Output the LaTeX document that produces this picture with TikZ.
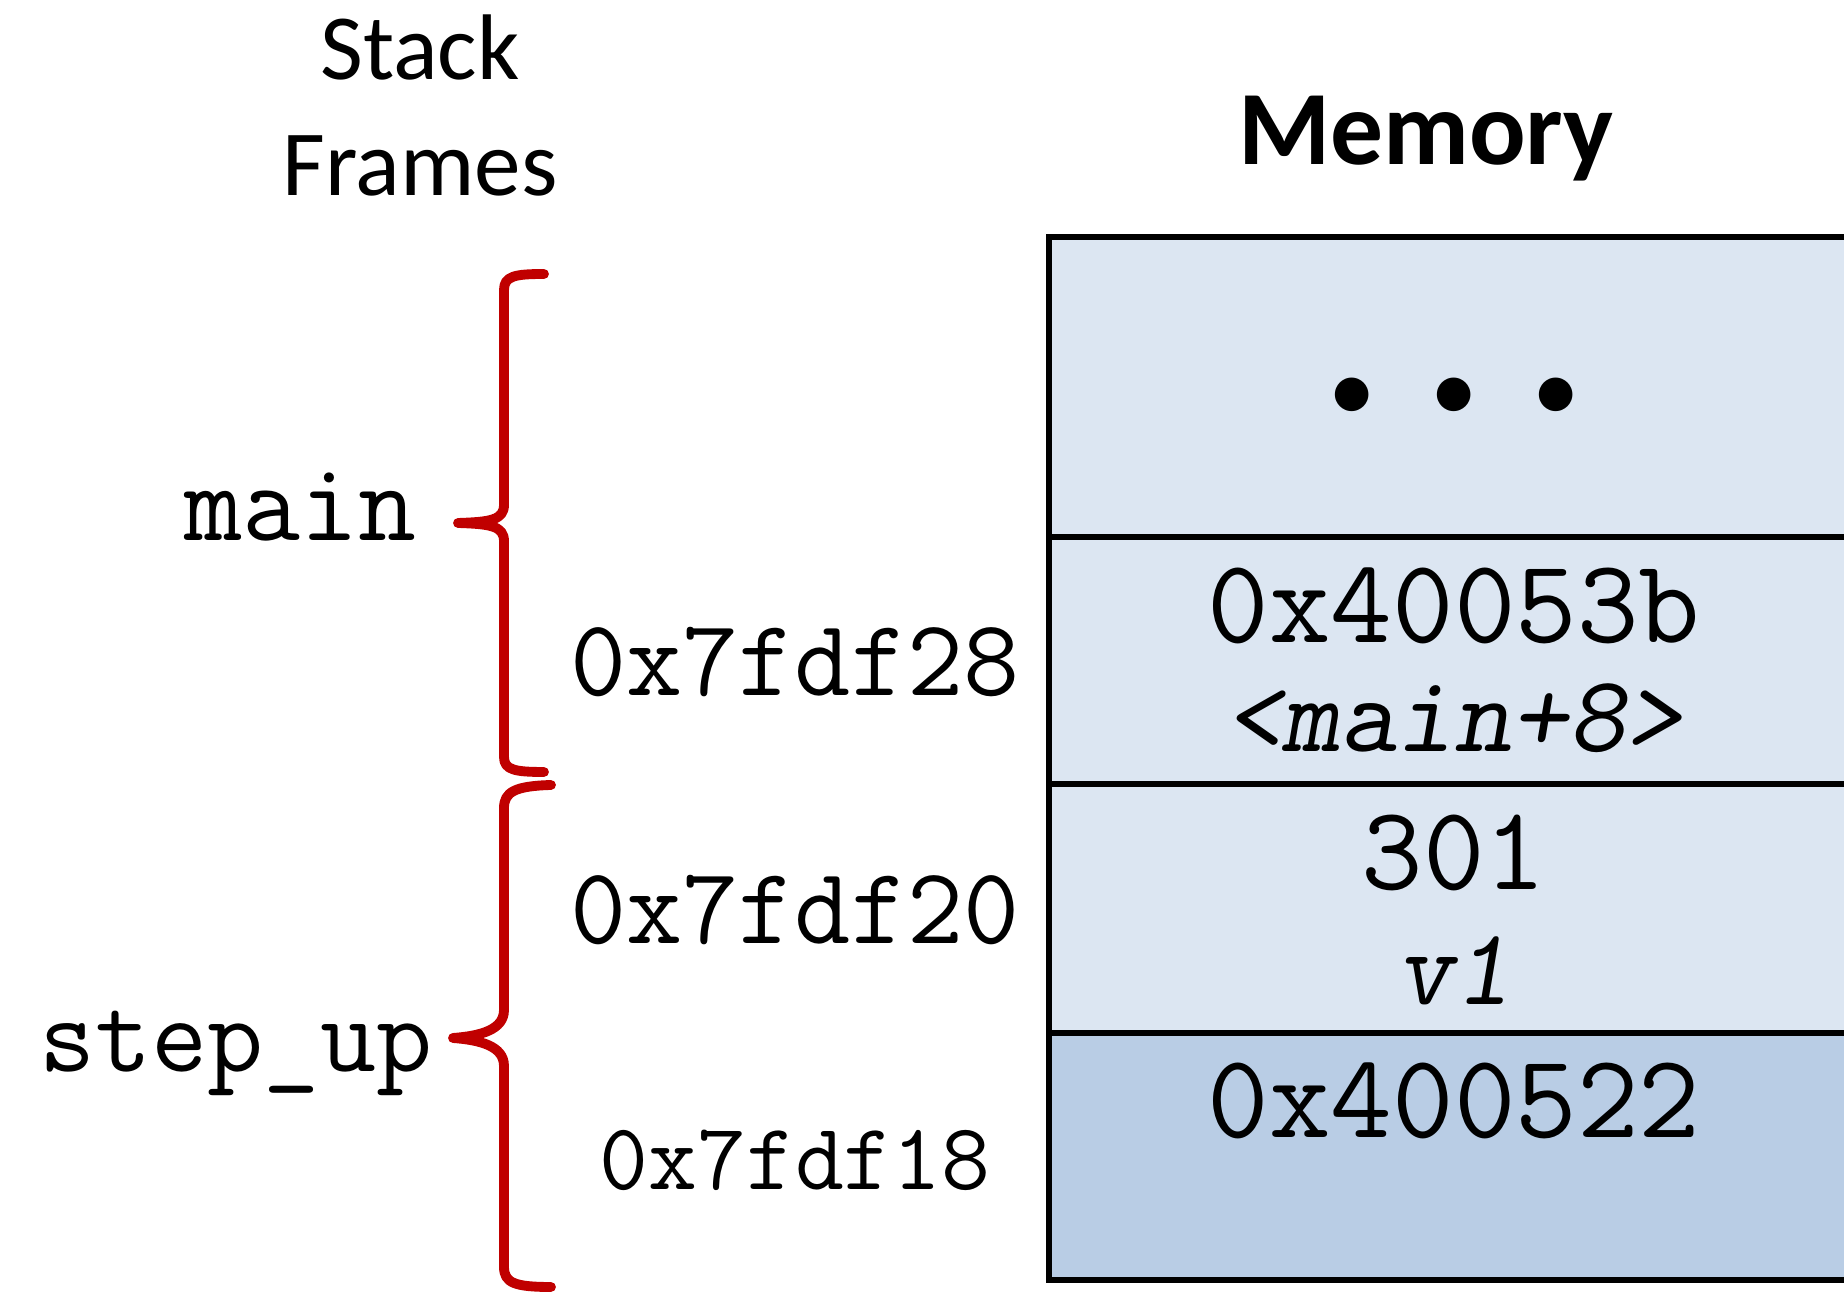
\documentclass[tikz,border=0pt]{standalone}
\usepackage{fontspec}
\setmainfont{Carlito}
\usetikzlibrary{positioning}
\definecolor{cellLight}{HTML}{DCE6F2}
\definecolor{cellDark}{HTML}{B9CDE5}
\definecolor{braceRed}{HTML}{C00000}

\begin{document}
\begin{tikzpicture}[x=0.01cm, y=-0.01cm,
  title_label/.style={anchor=base, inner sep=0pt, font=\fontsize{26.5}{32}\selectfont},
  mem_title/.style={anchor=base, inner sep=0pt, font=\bfseries\fontsize{30}{36}\selectfont},
  cell_text/.style={anchor=base, inner sep=0pt, font=\ttfamily\fontsize{34}{40}\selectfont},
  cell_name/.style={anchor=base, inner sep=0pt, font=\ttfamily\slshape\fontsize{31}{36}\selectfont},
  addr_label/.style={anchor=base, inner sep=0pt, font=\ttfamily\fontsize{31}{36}\selectfont},
  frame_label/.style={anchor=base east, inner sep=0pt, font=\ttfamily\fontsize{32}{38}\selectfont},
  frame_brace/.style={draw=braceRed, line width=2.8pt, line cap=round, line join=round},
  cell_border/.style={draw=black, line width=1.5pt}
]

\useasboundingbox (0,0) rectangle (1844,1298);
\clip (0,0) rectangle (1844,1298);

% Column x-positions
\def\xBrace{504}
\def\xAddr{795}
\def\xCell{1454}

% Titles
\node[title_label] (stackLbl) at (420,80) {Stack};
\node[title_label] (framesLbl) at (420,196) {Frames};
\node[mem_title] (memLbl) at (1426,165) {Memory};

% Memory cells (right side runs off the page)
\foreach \top/\bot/\col in {237/537/cellLight, 537/784/cellLight, 784/1033/cellLight, 1033/1280/cellDark}{
  \path[fill=\col, cell_border] (1049,\top) rectangle (1880,\bot);
}

% Cell contents
\node[cell_text, font=\fontsize{27}{32}\selectfont] (dots) at (\xCell,422) {\textbullet\hspace{0.58em}\textbullet\hspace{0.58em}\textbullet};
\node[cell_text] (retVal) at (\xCell,643) {0x40053b};
\node[cell_name] (retName) at (\xCell,752) {<main+8>};
\node[cell_text] (vVal) at (\xCell,890) {301};
\node[cell_name] (vName) at (\xCell,1005) {v1};
\node[cell_text] (nextVal) at (\xCell,1138) {0x400522};

% Addresses
\node[addr_label] (addr28) at (\xAddr,696) {0x7fdf28};
\node[addr_label] (addr20) at (\xAddr,944) {0x7fdf20};
\node[addr_label, font=\ttfamily\fontsize{27}{32}\selectfont] (addr18) at (\xAddr,1190) {0x7fdf18};

% Frame braces
\coordinate (mainTip) at (458,523);
\coordinate (stepTip) at (453,1038);
\draw[frame_brace] (544,274) .. controls (515,274) and (\xBrace,276) .. (\xBrace,290)
  -- (\xBrace,505) .. controls (\xBrace,520) and (490,522) .. (mainTip)
  .. controls (490,524) and (\xBrace,526) .. (\xBrace,541)
  -- (\xBrace,757) .. controls (\xBrace,770) and (515,772) .. (544,772);
\draw[frame_brace] (551,785) .. controls (515,786) and (\xBrace,792) .. (\xBrace,808)
  -- (\xBrace,1010) .. controls (\xBrace,1030) and (480,1036) .. (stepTip)
  .. controls (480,1040) and (\xBrace,1046) .. (\xBrace,1066)
  -- (\xBrace,1267) .. controls (\xBrace,1283) and (515,1287) .. (551,1287);

% Frame names
\node[frame_label] (mainLbl) at (417,541) {main};
\node[frame_label, font=\ttfamily\fontsize{31}{36}\selectfont] (stepLbl) at (433,1072) {step\_up};

\end{tikzpicture}
\end{document}
